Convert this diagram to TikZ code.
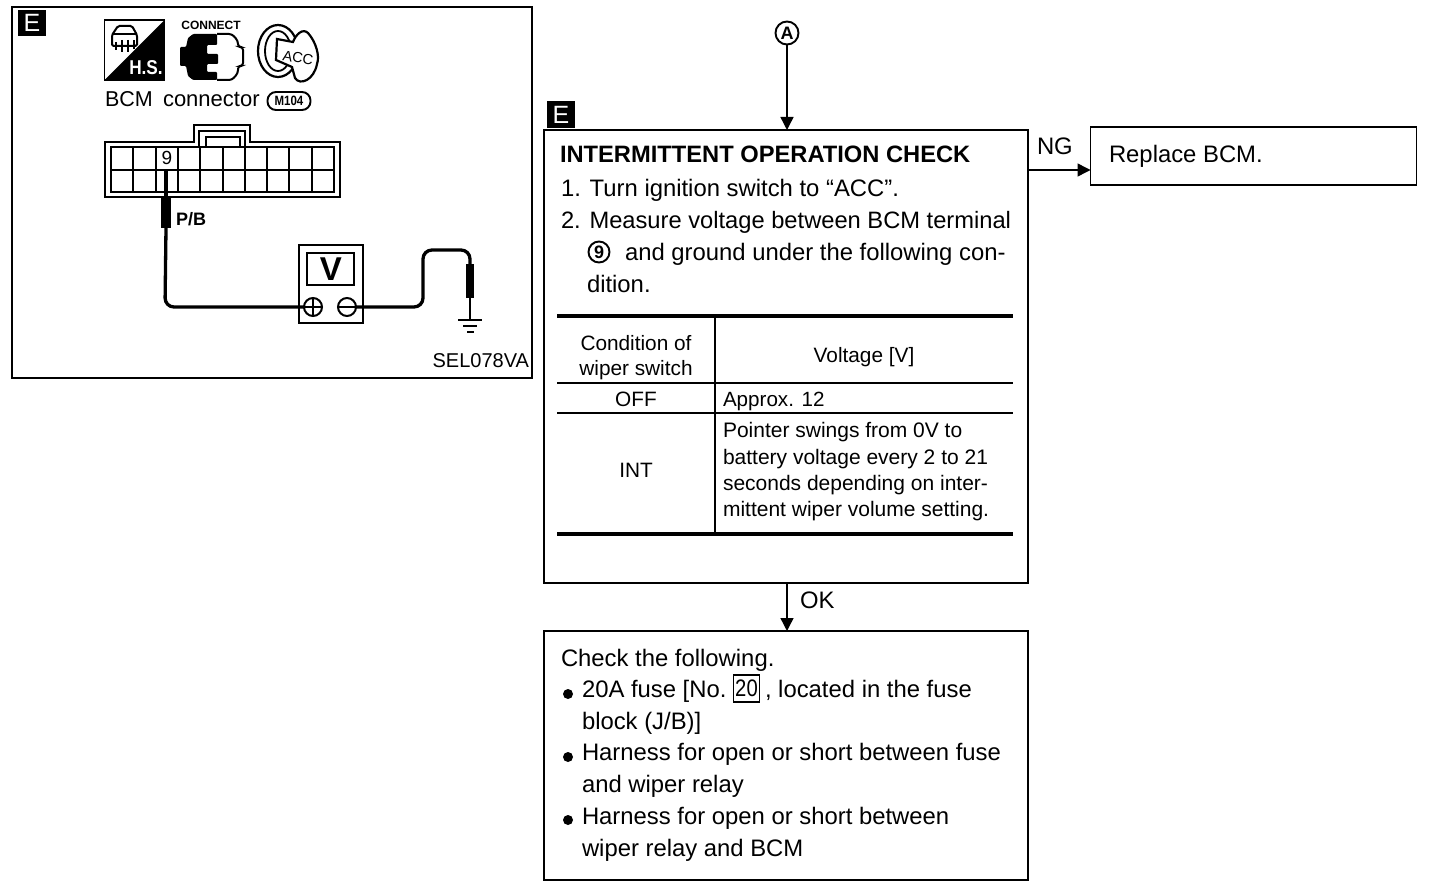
\documentclass[tikz,border=0pt]{standalone}
\usepackage{fontspec}
\setmainfont{Liberation Sans}
\usetikzlibrary{arrows.meta}
\tikzset{
 every node/.style={outer sep=0pt},
 t/.style={anchor=base west,inner sep=0pt,font=\fontsize{23.85}{26}\selectfont},
 ts/.style={anchor=base west,inner sep=0pt,font=\fontsize{21}{24}\selectfont},
 tc/.style={anchor=base,inner sep=0pt,font=\fontsize{20.8}{24}\selectfont},
 box/.style={draw,line width=1.9pt,anchor=north west,inner sep=0pt},
 conn/.style={line width=1.4pt,-{Triangle[length=13pt,width=13pt]}},
 badge/.style={fill=black,text=white,anchor=center,inner sep=0pt,font=\fontsize{25}{25}\selectfont},
 wire/.style={line width=3.3pt,rounded corners=9pt},
 probe/.style={fill=black,draw=none,anchor=north west,inner sep=0pt},
}
\begin{document}
\begin{tikzpicture}[x=1pt,y=-1pt]
\useasboundingbox (0,0) rectangle (1440,888);
% left panel
\node[box,minimum width=520pt,minimum height=371pt] (panel) at (12,7) {};
\node[badge,minimum width=28pt,minimum height=26pt] (e1) at (32,23) {E};
% HS icon
\node[box,line width=1.8pt,minimum width=60pt,minimum height=60pt] (hs) at (104.5,20) {};
\fill (164.5,20) -- (164.5,80) -- (104.5,80) -- cycle;
\node[anchor=center,inner sep=0pt,text=white,xscale=.86,font=\bfseries\fontsize{20}{20}\selectfont] (hst) at (146,67.5) {H.S.};
\draw[line width=2pt,rounded corners=1.5pt] (112,46) -- (112,35) -- (118,26) -- (132,26) -- (137,35) -- (137,46) -- cycle;
\draw[line width=1.7pt] (112,34)--(137,34) (116,42)--(116,50) (122,40)--(122,52) (128,40)--(128,52) (134,40)--(134,49);
% connect icon
\node[anchor=center,inner sep=0pt,font=\bfseries\fontsize{12}{12}\selectfont] (con) at (211,25) {CONNECT};
\fill[rounded corners=1pt] (180,47) -- (186,47) -- (188,38) -- (193,34) -- (217,34) -- (217,45) -- (207,45) -- (207,54) -- (218,54) -- (218,64) -- (207,64) -- (207,72) -- (217,72) -- (217,80) -- (193,80) -- (188,76) -- (186,66) -- (180,66) -- cycle;
\draw[line width=2pt,rounded corners=3pt] (217,34) -- (232,34) -- (238,41) -- (238,47) -- (243,47) -- (243,66) -- (238,66) -- (238,73) -- (232,80) -- (217,80);
% key icon
\draw[line width=2.2pt] (278,51) ellipse [x radius=20,y radius=26];
\draw[line width=1.8pt] (278,51) ellipse [x radius=13,y radius=20];
\draw[line width=2.2pt,fill=white] (276,60) -- (277,39) -- (293,42) .. controls (296,34) and (303,28) .. (308,33) .. controls (316,42) and (320,56) .. (317,64) .. controls (314,80) and (300,86) .. (295,78) -- (292,67) -- cycle;
\node[anchor=center,inner sep=0pt,rotate=-10,font=\fontsize{14.5}{15}\selectfont] (acc) at (298,58) {ACC};
% BCM connector label
\node[t,font=\fontsize{21.5}{22}\selectfont] (bcm) at (105,107) {BCM};
\node[t,font=\fontsize{22}{22}\selectfont] (bcmc) at (163,107) {connector};
\node[draw,line width=1.9pt,rounded corners=8.5pt,minimum width=43pt,minimum height=18pt,inner sep=0pt] (m104) at (289,101) {};
\node[anchor=center,inner sep=0pt,xscale=.85,font=\bfseries\fontsize{13.5}{13}\selectfont] (m104t) at (289,101) {M104};
% connector
\draw[line width=2pt] (105,142) -- (194,142) -- (194,125) -- (250,125) -- (250,142) -- (340,142) -- (340,197) -- (105,197) -- cycle;
\draw[line width=1.5pt] (199,146) -- (199,131) -- (245,131) -- (245,146);
\draw[line width=1.5pt] (206,146) -- (206,137) -- (240,137) -- (240,146);
\draw[line width=1.5pt] (111,147) rectangle (334,192);
\draw[line width=1.4pt] (111,170) -- (334,170);
\foreach \x in {133,156,178,200,223,245,267,289,312}{\draw[line width=1.4pt] (\x,147) -- (\x,192);}
\fill[white] (158,148) rectangle (176,168.5);
\node[anchor=center,inner sep=0pt,font=\fontsize{19}{19}\selectfont] (nine) at (167,158) {9};
% wiring
\coordinate (pin) at (166,169);
\node[probe,minimum width=10pt,minimum height=32pt] (p1) at (161,196) {};
\node[t,font=\bfseries\fontsize{18}{18}\selectfont] (pb) at (176,225) {P/B};
\node[box,line width=2pt,minimum width=64pt,minimum height=78pt] (meter) at (298.5,245) {};
\node[box,line width=2pt,minimum width=47pt,minimum height=32pt] (disp) at (307,253) {};
\node[anchor=center,inner sep=0pt,font=\bfseries\fontsize{33}{33}\selectfont] (v) at (331,269.5) {V};
\node[circle,draw,line width=2pt,minimum size=18pt,inner sep=0pt] (plus) at (313,307) {};
\node[circle,draw,line width=2pt,minimum size=18pt,inner sep=0pt] (minus) at (347,307) {};
\draw[line width=1.6pt] (plus.west) -- (plus.east) (plus.north) -- (plus.south) (minus.west) -- (minus.east);
\draw[line width=3.4pt] (pin) -- (p1.north);
\draw[wire] (p1.south) -- (165,307) -- (plus.west);
\node[probe,minimum width=8pt,minimum height=34pt] (p2) at (466,264) {};
\draw[wire] (minus.east) -- (423,307) -- (423,250) -- (470,250) -- (p2.north);
\coordinate (gnd) at (470,320);
\draw[line width=2.2pt] (p2.south) -- (gnd);
\draw[line width=2.2pt] (458,320) -- (482,320);
\draw[line width=2.2pt] (463,326) -- (477,326);
\draw[line width=2.6pt] (467,332) -- (474,332);
\node[anchor=base east,inner sep=0pt,font=\fontsize{20}{22}\selectfont] (sel) at (529,367) {SEL078VA};
% flow
\node[circle,draw,line width=1.9pt,minimum size=23pt,inner sep=0pt,font=\bfseries\fontsize{18}{18}\selectfont] (a) at (787,33) {A};
\node[box,minimum width=484pt,minimum height=453pt] (main) at (544,130) {};
\node[badge,minimum width=28pt,minimum height=27pt] (e2) at (561,115) {E};
\node[box,minimum width=326pt,minimum height=58pt] (ng) at (1090.5,127) {};
\node[box,minimum width=484pt,minimum height=249pt] (chk) at (544,631) {};
\draw[conn] (a.south) -- (a.south |- main.north);
\coordinate (ngout) at (main.east |- 0,170);
\draw[conn] (ngout) -- (ng.west |- ngout);
\draw[conn] (main.south -| a.south) -- (chk.north -| a.south);
\node[t] (ngl) at (1037,154) {NG};
\node[t] (okl) at (800,608) {OK};
\node[t] (rep) at (1109,162) {Replace BCM.};
% main text
\node[t,font=\bfseries\fontsize{23.7}{26}\selectfont] (m0) at (560,163) {INTERMITTENT OPERATION CHECK};
\node[t] (m1) at (561,196) {1. Turn ignition switch to “ACC”.};
\node[t,font=\fontsize{23.7}{26}\selectfont] (m2) at (561,228) {2. Measure voltage between BCM terminal};
\node[circle,draw,line width=1.9pt,minimum size=21pt,inner sep=0pt,font=\bfseries\fontsize{18}{18}\selectfont] (c9) at (599,252) {9};
\node[t] (m3) at (625,260) {and ground under the following con-};
\node[t] (m4) at (587,292) {dition.};
% table
\coordinate (tl) at (557,316);
\coordinate (tr) at (1013,316);
\coordinate (bl) at (557,534);
\coordinate (br) at (1013,534);
\coordinate (vt) at (715,316);
\coordinate (vb) at (715,534);
\draw[line width=3.4pt] (tl) -- (tr);
\draw[line width=3.4pt] (bl) -- (br);
\draw[line width=2pt] (tl |- 0,383) -- (tr |- 0,383);
\draw[line width=2pt] (tl |- 0,413) -- (tr |- 0,413);
\draw[line width=1.7pt] (vt) -- (vb);
\node[tc] (c1) at (636,350) {Condition of};
\node[tc] (c2) at (636,375) {wiper switch};
\node[tc] (c3) at (864,362) {Voltage [V]};
\node[tc] (c4) at (636,406) {OFF};
\node[ts,font=\fontsize{20.6}{24}\selectfont] (c5) at (723,406) {Approx. 12};
\node[tc] (c6) at (636,477) {INT};
\node[ts] (c7) at (723,437) {Pointer swings from 0V to};
\node[ts] (c8) at (723,464) {battery voltage every 2 to 21};
\node[ts] (c9b) at (723,490) {seconds depending on inter-};
\node[ts] (c10) at (723,516) {mittent wiper volume setting.};
% check box text
\node[t] (k0) at (561,666) {Check the following.};
\node[circle,fill=black,minimum size=10pt,inner sep=0pt] (b1) at (568,694) {};
\node[t] (k1) at (582,697) {20A fuse [No.};
\node[draw,line width=1.3pt,minimum width=31pt,minimum height=27pt,inner sep=0pt,xscale=.85,font=\fontsize{23.85}{26}\selectfont] (k20) at (746.5,688.5) {20};
\node[t] (k1b) at (765,697) {, located in the fuse};
\node[t] (k2) at (582,729) {block (J/B)]};
\node[circle,fill=black,minimum size=10pt,inner sep=0pt] (b2) at (568,757) {};
\node[t] (k3) at (582,760) {Harness for open or short between fuse};
\node[t] (k4) at (582,792) {and wiper relay};
\node[circle,fill=black,minimum size=10pt,inner sep=0pt] (b3) at (568,820) {};
\node[t] (k5) at (582,824) {Harness for open or short between};
\node[t] (k6) at (582,856) {wiper relay and BCM};
\end{tikzpicture}
\end{document}
